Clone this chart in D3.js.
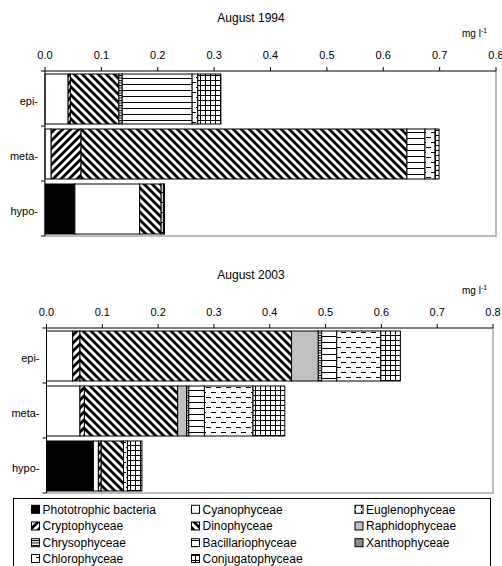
<!DOCTYPE html>
<html><head><meta charset="utf-8">
<script src="https://cdn.jsdelivr.net/npm/d3@7"></script>
<style>
html,body{margin:0;padding:0;background:#fff;}
text{font-family:"Liberation Sans",Arial,sans-serif;fill:#000;}
</style></head>
<body><svg id="chart" width="502" height="566"></svg>
<script>
// ---- data ----
const categories = ["epi-", "meta-", "hypo-"];
const seriesNames = ["Phototrophic bacteria", "Cyanophyceae", "Euglenophyceae",
  "Cryptophyceae", "Dinophyceae", "Raphidophyceae",
  "Chrysophyceae", "Bacillariophyceae", "Xanthophyceae",
  "Chlorophyceae", "Conjugatophyceae"];
const xTicks = [0, 0.1, 0.2, 0.3, 0.4, 0.5, 0.6, 0.7, 0.8];
// values in mg l-1, order = seriesNames
const epi1994  = [0,     0.041, 0, 0.004, 0.086, 0,     0.006, 0.124, 0, 0.010, 0.041];
const meta1994 = [0,     0.011, 0, 0.053, 0.578, 0,     0,     0.032, 0, 0.018, 0.007];
const hypo1994 = [0.053, 0.115, 0, 0,     0.038, 0,     0,     0,     0, 0.004, 0.002];
const epi2003  = [0,     0.047, 0, 0.013, 0.379, 0.048, 0.006, 0.027, 0, 0.079, 0.035];
const meta2003 = [0,     0.060, 0, 0.008, 0.167, 0.016, 0.004, 0.028, 0, 0.087, 0.057];
const hypo2003 = [0.084, 0.009, 0, 0.005, 0.040, 0,     0,     0,     0, 0.007, 0.026];
const panels = [
  {title: "August 1994", rows: [epi1994, meta1994, hypo1994]},
  {title: "August 2003", rows: [epi2003, meta2003, hypo2003]}
];

const svg = d3.select("#chart");
const defs = svg.append("defs");

// ---- patterns ----
function pat(id, w, h) {
  const p = defs.append("pattern").attr("id", id).attr("patternUnits", "userSpaceOnUse")
    .attr("width", w).attr("height", h);
  p.append("rect").attr("width", w).attr("height", h).attr("fill", "#fff");
  return p;
}
pat("p-crypto", 8, 8).append("path")
  .attr("d", "M0,8L8,0M-2,2L2,-2M6,10L10,6").attr("stroke", "#000").attr("stroke-width", 2.8);
pat("p-dino", 8, 8).append("path")
  .attr("d", "M0,0L8,8M-2,6L2,10M6,-2L10,2").attr("stroke", "#000").attr("stroke-width", 2.8);
pat("p-chryso", 4, 2.5).append("path").attr("d", "M0,0.5H4").attr("stroke", "#000").attr("stroke-width", 1);
pat("p-bacil", 6, 6).append("path").attr("d", "M0,0.5H6").attr("stroke", "#000").attr("stroke-width", 1);
pat("p-chloro", 10, 10).append("path").attr("d", "M1,2.5H6M6,7.5H11M-4,7.5H1").attr("stroke", "#000").attr("stroke-width", 1);
pat("p-conj", 5, 5).append("path").attr("d", "M0,0.5H5M0.5,0V5").attr("stroke", "#000").attr("stroke-width", 1);
pat("p-eugl", 6, 6).append("path").attr("d", "M1.5,1V4").attr("stroke", "#000").attr("stroke-width", 1);

const fills = ["#000", "#fff", "url(#p-eugl)", "url(#p-crypto)", "url(#p-dino)", "#c0c0c0",
  "url(#p-chryso)", "url(#p-bacil)", "#8c8c8c", "url(#p-chloro)", "url(#p-conj)"];

// ---- panels ----
const layout = [
  {top: 71, x0: 45, x1: 496, titleY: 22, unitY: 37},
  {top: 328, x0: 46.5, x1: 493, titleY: 279, unitY: 294}
];
const plotH = 165;

panels.forEach((panel, pi) => {
  const L = layout[pi];
  const g = svg.append("g");
  const x = d3.scaleLinear().domain([0, 0.8]).range([L.x0, L.x1]);
  const y = d3.scaleBand().domain(categories).range([L.top, L.top + plotH]);

  g.append("text").attr("x", 251).attr("y", L.titleY).attr("text-anchor", "middle")
    .attr("font-size", 12).text(panel.title);
  const u = g.append("text").attr("x", 462).attr("y", L.unitY).attr("font-size", 10);
  u.append("tspan").text("mg l");
  u.append("tspan").attr("font-size", 7).attr("dy", -4).text("-1");

  g.append("path")
    .attr("d", `M${L.x1},${L.top}V${L.top + plotH}H${L.x0}`)
    .attr("fill", "none").attr("stroke", "#a8a8a8").attr("stroke-width", 1.5);

  const rowsData = categories.map((c, i) => {
    const o = {cat: c};
    seriesNames.forEach((s, j) => o[s] = panel.rows[i][j]);
    return o;
  });
  const stack = d3.stack().keys(seriesNames)(rowsData);
  stack.forEach((layer, si) => {
    g.selectAll(null).data(layer.filter(d => d[1] - d[0] > 0)).enter().append("rect")
      .attr("x", d => x(d[0]))
      .attr("y", d => y(d.data.cat) + 3)
      .attr("width", d => x(d[1]) - x(d[0]))
      .attr("height", y.bandwidth() - 5)
      .attr("fill", fills[si])
      .attr("stroke", "#000").attr("stroke-width", 1);
  });

  g.append("line").attr("x1", L.x0).attr("x2", L.x1).attr("y1", L.top).attr("y2", L.top)
    .attr("stroke", "#000").attr("stroke-width", 1);
  xTicks.forEach(t => {
    g.append("line").attr("x1", x(t)).attr("x2", x(t)).attr("y1", L.top - 4).attr("y2", L.top)
      .attr("stroke", "#000");
    g.append("text").attr("x", x(t)).attr("y", L.top - 12).attr("text-anchor", "middle")
      .attr("font-size", 11).text(d3.format(".1f")(t));
  });
  g.append("line").attr("x1", L.x0).attr("x2", L.x0).attr("y1", L.top).attr("y2", L.top + plotH)
    .attr("stroke", "#000");
  [0, 1, 2, 3].forEach(i => {
    const yy = L.top + i * y.bandwidth();
    g.append("line").attr("x1", L.x0 - 4).attr("x2", L.x0).attr("y1", yy).attr("y2", yy).attr("stroke", "#000");
  });
  categories.forEach(c => {
    g.append("text").attr("x", L.x0 - 7).attr("y", y(c) + y.bandwidth() / 2 + 6)
      .attr("text-anchor", "end").attr("font-size", 11).text(c);
  });
});

// ---- legend ----
const lg = svg.append("g");
lg.append("rect").attr("x", 13.5).attr("y", 498.5).attr("width", 477).attr("height", 75)
  .attr("fill", "none").attr("stroke", "#000").attr("stroke-width", 1);
const colX = [31.5, 191.5, 355];
const rowY = [509.3, 526, 542.7, 558.5];
seriesNames.forEach((s, i) => {
  const cx = colX[i % 3], cy = rowY[Math.floor(i / 3)];
  lg.append("rect").attr("x", cx).attr("y", cy - 4).attr("width", 8).attr("height", 8)
    .attr("fill", fills[i]).attr("stroke", "#000").attr("stroke-width", 1);
  lg.append("text").attr("x", cx + 11).attr("y", cy + 4.3).attr("font-size", 12).text(s);
});
</script></body></html>
